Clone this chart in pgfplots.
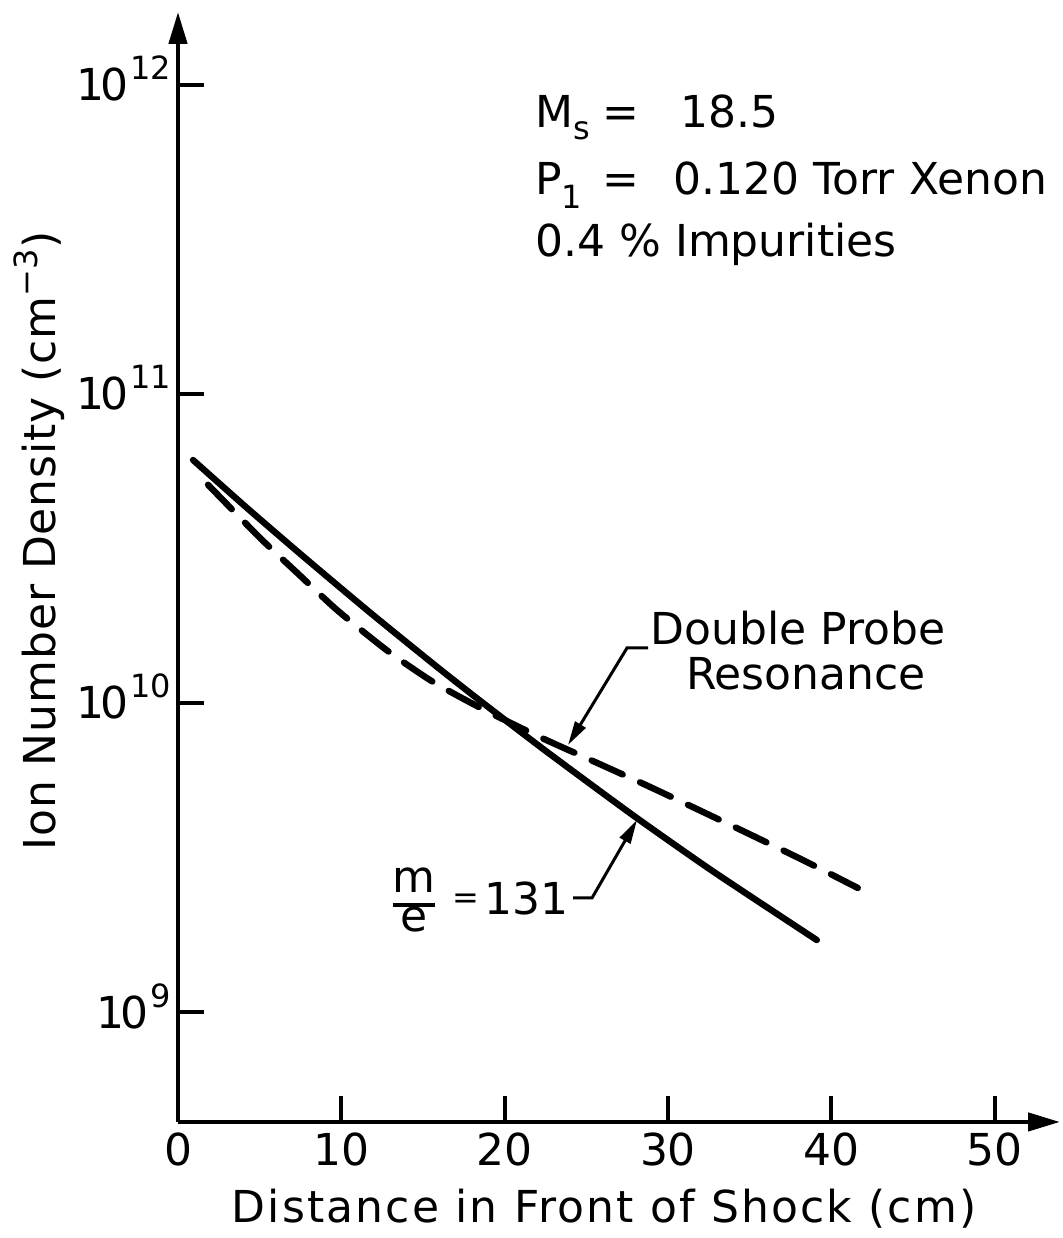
\documentclass[border=0pt]{standalone}
\usepackage{fontspec}
\setmainfont{DejaVu Sans}
\usepackage{pgfplots}
\pgfplotsset{compat=1.18}
\usetikzlibrary{arrows.meta}

\newcommand\labfont{\fontsize{22pt}{26pt}\selectfont}
\newcommand\supfont{\fontsize{16pt}{18pt}\selectfont}
\newcommand\pten[1]{1\kern-2pt 0\hspace{1pt}\smash{\raisebox{10.5pt}{\supfont #1}}}

% ion density along the tube, m/e = 131 analysis
\pgfplotstableread{
x     n
0.92  6.11e10
4.20  4.285e10
7.67  2.979e10
11.75 1.963e10
15.83 1.312e10
18.67 1.00e10
22.56 6.966e9
27.85 4.335e9
32.76 2.851e9
39.11 1.71e9
}\massdata

% double probe resonance measurement
\pgfplotstableread{
x     n
1.84  5.08e10
5.02  3.42e10
7.28  2.64e10
9.73  2.00e10
12.79 1.48e10
15.61 1.17e10
18.67 9.55e9
22.15 7.76e9
25.40 6.49e9
28.70 5.41e9
31.95 4.49e9
35.19 3.72e9
38.49 3.06e9
41.62 2.52e9
}\probedata

\begin{document}
\begin{tikzpicture}
\path[use as bounding box] (0,0) rectangle (531.5pt,619pt);
\begin{axis}[
  at={(89pt,58pt)}, anchor=south west,
  scale only axis, width=441pt, height=555pt,
  xmin=0, xmax=54,
  ymode=log, ymin=4.41e8, ymax=1.72e12,
  axis lines=left,
  axis line style={line width=2.2pt, -{Triangle[length=16pt,width=9pt]}},
  xtick={0,10,...,50},
  ytick={1e9,1e10,1e11,1e12},
  yticklabels={\pten{9},\pten{10},\pten{11},\pten{12}},
  yminorticks=false,
  tick align=inside,
  major tick length=13pt,
  tick style={line width=2pt, black},
  ticklabel style={font=\labfont},
  xticklabel style={yshift=-2pt},
  /pgf/number format/assume math mode=true,
  clip=false,
]
\addplot[black, line width=3.2pt, line cap=round, line join=round, smooth, tension=0.4]
  table[x=x, y=n] {\massdata};
\addplot[black, line width=3.2pt, line cap=round, line join=round, smooth, tension=0.4,
  dash pattern=on 17pt off 9.5pt]
  table[x=x, y=n] {\probedata};
\end{axis}

\begin{scope}[x=0.5pt, y=-0.5pt, yshift=619pt, every node/.style={inner sep=0pt, font=\labfont}]
  % axis titles
  \node[rotate=90, anchor=base] at (56,541)
    {\addfontfeature{LetterSpace=2}Ion Number Density (cm\raisebox{9pt}{\supfont −3})};
  \node[anchor=base] at (604,1222)
    {\addfontfeature{LetterSpace=5}Distance in Front of Shock (cm)};
  % run conditions
  \node[anchor=base west] at (535,128) {M\raisebox{-6pt}{\supfont s}};
  \node[anchor=base] at (621,128) {=};
  \node[anchor=base west] at (680,128) {18.5};
  \node[anchor=base west] at (535,195) {P\raisebox{-7pt}{\supfont 1}};
  \node[anchor=base] at (621,195) {=};
  \node[anchor=base west] at (673,195) {0.120 Torr Xenon};
  \node[anchor=base west] at (535,257) {0.4 \% Impurities};
  % curve labels
  \node[anchor=base] at (798,645) {Double Probe};
  \node[anchor=base] at (806,690) {Resonance};
  \draw[line width=1.5pt, -{Triangle[length=12pt,width=6pt]}]
    (648,648) -- (627,648) -- (568,745);
  \node[anchor=base] at (414,893)
    {\setlength{\tabcolsep}{0pt}\setlength{\arrayrulewidth}{2pt}%
     \renewcommand\arraystretch{0.62}%
     \begin{tabular}[t]{c}m\\\hline e\end{tabular}};
  \node[anchor=center, font=\supfont] at (466,901) {=};
  \node[anchor=base west] at (484,915) {131};
  \draw[line width=1.5pt, -{Triangle[length=12pt,width=6pt]}]
    (573,898) -- (592,898) -- (637,820);
\end{scope}
\end{tikzpicture}
\end{document}
